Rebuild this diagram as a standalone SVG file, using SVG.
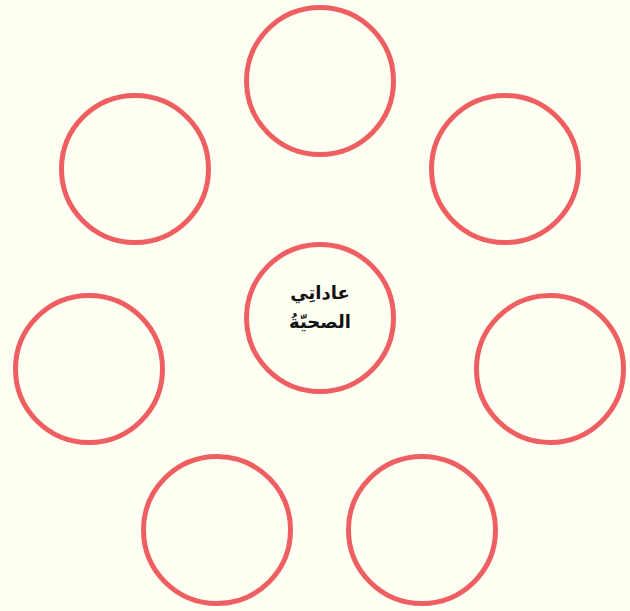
<svg xmlns="http://www.w3.org/2000/svg" width="630" height="611" viewBox="0 0 630 611">
<style>
.c{fill:none;stroke:#ef5f62;stroke-width:5}
.t{font-family:"DejaVu Sans","Noto Sans",sans-serif;font-weight:bold;font-size:18px;fill:#111;text-anchor:middle}
</style>
<rect width="630" height="611" fill="#fffff4"/>
<g id="connectors"/>
<g id="center"><circle class="c" cx="320" cy="318" r="73.5"/>
<text class="t" x="320" y="299" direction="rtl">عاداتِي</text>
<text class="t" x="320" y="328" direction="rtl">الصحيّةُ</text></g>
<g id="n1"><circle class="c" cx="320" cy="81" r="73.5"/></g>
<g id="n2"><circle class="c" cx="505" cy="169" r="73.5"/></g>
<g id="n3"><circle class="c" cx="550" cy="369" r="73.5"/></g>
<g id="n4"><circle class="c" cx="422" cy="530" r="73.5"/></g>
<g id="n5"><circle class="c" cx="217" cy="530" r="73.5"/></g>
<g id="n6"><circle class="c" cx="89" cy="369" r="73.5"/></g>
<g id="n7"><circle class="c" cx="135" cy="169" r="73.5"/></g>
</svg>
